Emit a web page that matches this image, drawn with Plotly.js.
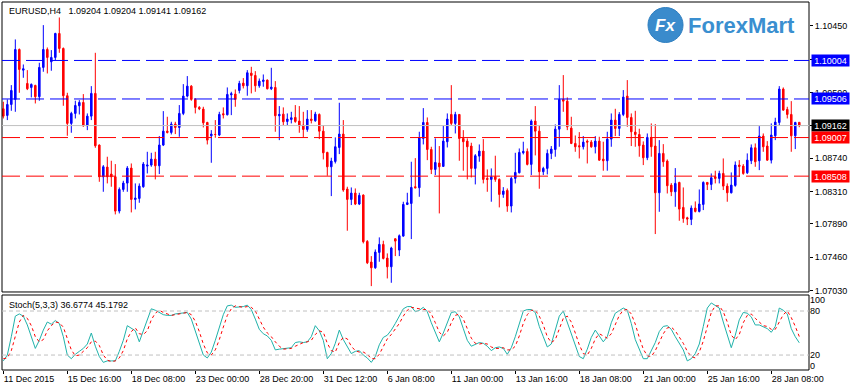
<!DOCTYPE html>
<html>
<head>
<meta charset="utf-8">
<script src="https://cdn.plot.ly/plotly-3.0.1.min.js"></script>
<style>html,body{margin:0;padding:0;background:#fff;}#chart{width:854px;height:389px;}</style>
</head>
<body>
<div id="chart"></div>
<script>
// ---- data (EURUSD, H4) ----
const symbolTitle = "EURUSD,H4\u00a0\u00a0 1.09204 1.09204 1.09141 1.09162";
const stochTitle = "Stoch(5,3,3) 36.6774 45.1792";

const opens = [
1.09379,1.09293,1.09435,1.09500,1.10146,1.09879,1.09707,1.09655,1.09681,1.09535,
1.09914,1.10146,1.09987,1.10043,1.10353,1.10159,1.09548,1.09190,1.09319,1.09418,
1.09461,1.09159,1.09284,1.09578,1.08910,1.08500,1.08625,1.08535,1.08500,1.08056,
1.08336,1.08418,1.08612,1.08207,1.08220,1.08371,1.08638,1.08651,1.08728,1.08642,
1.08910,1.09090,1.09073,1.09181,1.09138,1.09319,1.09543,1.09672,1.09500,1.09397,
1.09375,1.09202,1.09030,1.09047,1.09039,1.09315,1.09302,1.09560,1.09569,1.09616,
1.09711,1.09677,1.09840,1.09810,1.09677,1.09733,1.09750,1.09638,1.09655,1.09289,
1.09310,1.09215,1.09241,1.09267,1.09220,1.09168,1.09112,1.09246,1.09224,1.09306,
1.09090,1.08815,1.08629,1.08698,1.08879,1.09052,1.08341,1.08207,1.08289,1.08147,
1.08263,1.07664,1.07397,1.07323,1.07522,1.07625,1.07448,1.07336,1.07698,1.07552,
1.07733,1.08142,1.08155,1.08371,1.08358,1.08996,1.09202,1.08853,1.08595,1.08677,
1.08634,1.08953,1.09306,1.09190,1.09306,1.08996,1.08961,1.08897,1.08608,1.08767,
1.08832,1.08479,1.08466,1.08500,1.08466,1.08272,1.08323,1.08121,1.08479,1.08552,
1.08810,1.08828,1.08660,1.09220,1.09090,1.08565,1.08608,1.08802,1.08853,1.09116,
1.09500,1.09478,1.09129,1.08931,1.08901,1.08888,1.08961,1.08948,1.08888,1.08961,
1.08728,1.08707,1.08987,1.09233,1.09125,1.09306,1.09543,1.09267,1.09078,1.09047,
1.08910,1.08746,1.09009,1.08897,1.08293,1.08802,1.08703,1.08392,1.08306,1.08427,
1.08104,1.07970,1.07948,1.08095,1.08052,1.08142,1.08427,1.08401,1.08500,1.08479,
1.08543,1.08379,1.08293,1.08388,1.08651,1.08638,1.08552,1.08707,1.08875,1.08707,
1.09026,1.08897,1.08715,1.09030,1.09202,1.09634,1.09371,1.09306,1.09030,1.09204];

const highs = [
1.09470,1.09500,1.09685,1.10276,1.10159,1.09952,1.09879,1.09707,1.09690,1.09974,
1.10461,1.10172,1.10138,1.10362,1.10560,1.10172,1.09586,1.09340,1.09483,1.09491,
1.09569,1.09319,1.09672,1.10103,1.08918,1.08651,1.08759,1.08707,1.08664,1.08362,
1.08448,1.08638,1.08672,1.08414,1.08414,1.08690,1.08823,1.08810,1.08823,1.09026,
1.09349,1.09276,1.09211,1.09211,1.09427,1.09698,1.09802,1.09685,1.09517,1.09414,
1.09405,1.09211,1.09103,1.09233,1.09340,1.09397,1.09655,1.09599,1.09629,1.09741,
1.09776,1.09879,1.09922,1.09866,1.09771,1.09823,1.09758,1.09909,1.09737,1.09414,
1.09397,1.09319,1.09340,1.09427,1.09414,1.09340,1.09362,1.09362,1.09340,1.09319,
1.09168,1.08823,1.08746,1.09009,1.09457,1.09233,1.08371,1.08362,1.08349,1.08293,
1.08272,1.07681,1.07474,1.07560,1.07716,1.07673,1.07509,1.07595,1.07703,1.07754,
1.08177,1.08293,1.08694,1.08741,1.09082,1.09388,1.09267,1.08888,1.08996,1.08897,
1.09159,1.09319,1.09685,1.09340,1.09310,1.09103,1.08996,1.08940,1.08793,1.08918,
1.08987,1.08595,1.08608,1.08772,1.08479,1.08366,1.08349,1.08500,1.08810,1.08866,
1.08953,1.08866,1.09241,1.09414,1.09168,1.08629,1.08853,1.08897,1.09177,1.09685,
1.09815,1.09526,1.09276,1.09034,1.09077,1.09026,1.08983,1.08974,1.09026,1.09017,
1.08953,1.09082,1.09319,1.09379,1.09336,1.09621,1.09750,1.09319,1.09353,1.09121,
1.08957,1.09060,1.09190,1.09181,1.08974,1.08922,1.08724,1.08418,1.08612,1.08435,
1.08362,1.07983,1.08129,1.08181,1.08336,1.08440,1.08431,1.08543,1.08578,1.08578,
1.08737,1.08414,1.08556,1.08698,1.08715,1.08664,1.08802,1.08918,1.08931,1.09155,
1.09060,1.08961,1.09190,1.09263,1.09672,1.09655,1.09405,1.09478,1.09211,1.09204];

const lows = [
1.09254,1.09233,1.09353,1.09340,1.09586,1.09780,1.09621,1.09526,1.09448,1.09483,
1.09858,1.09836,1.09871,1.10008,1.10103,1.09418,1.09030,1.09069,1.09254,1.09306,
1.09146,1.09103,1.09233,1.08875,1.08435,1.08306,1.08414,1.08371,1.08013,1.08026,
1.08306,1.08306,1.08039,1.08078,1.08164,1.08358,1.08543,1.08629,1.08466,1.08535,
1.08897,1.09060,1.09047,1.09052,1.09017,1.09297,1.09526,1.09483,1.09319,1.09362,
1.09138,1.08918,1.08681,1.09004,1.09026,1.09254,1.09293,1.09297,1.09405,1.09578,
1.09642,1.09548,1.09578,1.09599,1.09651,1.09664,1.09629,1.09621,1.09082,1.08974,
1.09168,1.09168,1.09190,1.09198,1.09069,1.09009,1.09082,1.09190,1.09211,1.08987,
1.08724,1.08513,1.08250,1.08672,1.08793,1.08306,1.07802,1.08134,1.08134,1.08134,
1.07638,1.07371,1.07086,1.07310,1.07401,1.07431,1.07185,1.07129,1.07474,1.07474,
1.07724,1.08134,1.07694,1.08349,1.08241,1.08918,1.08715,1.08535,1.08522,1.08026,
1.08629,1.08879,1.09168,1.09060,1.08707,1.08578,1.08466,1.08491,1.08401,1.08694,
1.08414,1.08306,1.08177,1.08435,1.08104,1.08228,1.08047,1.08039,1.08414,1.08543,
1.08789,1.08647,1.08522,1.08776,1.08345,1.08522,1.08530,1.08728,1.08759,1.08888,
1.09340,1.09103,1.08922,1.08823,1.08737,1.08853,1.08672,1.08875,1.08802,1.08707,
1.08578,1.08578,1.08888,1.09026,1.09026,1.09284,1.09146,1.08897,1.08888,1.08759,
1.08651,1.08715,1.08759,1.07759,1.08047,1.08629,1.08284,1.08250,1.08112,1.07931,
1.07905,1.07875,1.07875,1.08039,1.08039,1.08069,1.08328,1.08328,1.08414,1.08414,
1.08328,1.08177,1.08284,1.08371,1.08500,1.08526,1.08535,1.08664,1.08629,1.08586,
1.08823,1.08707,1.08672,1.08974,1.09159,1.09353,1.09254,1.08823,1.08858,1.09141];

const closes = [
1.09284,1.09435,1.09616,1.10146,1.09888,1.09896,1.09638,1.09694,1.09535,1.09914,
1.10146,1.10043,1.10043,1.10353,1.10159,1.09548,1.09190,1.09319,1.09422,1.09461,
1.09159,1.09284,1.09578,1.08901,1.08500,1.08629,1.08500,1.08500,1.08056,1.08336,
1.08418,1.08612,1.08207,1.08224,1.08379,1.08664,1.08651,1.08728,1.08642,1.08910,
1.09090,1.09073,1.09181,1.09138,1.09319,1.09543,1.09672,1.09500,1.09397,1.09379,
1.09198,1.08974,1.09052,1.09047,1.09306,1.09302,1.09565,1.09573,1.09500,1.09707,
1.09677,1.09845,1.09810,1.09677,1.09737,1.09750,1.09638,1.09659,1.09289,1.09306,
1.09211,1.09246,1.09263,1.09215,1.09159,1.09112,1.09246,1.09228,1.09310,1.09090,
1.08810,1.08629,1.08703,1.08888,1.09052,1.08328,1.08207,1.08289,1.08147,1.08259,
1.07660,1.07388,1.07323,1.07526,1.07625,1.07444,1.07336,1.07578,1.07668,1.07737,
1.08142,1.08164,1.08362,1.08358,1.09004,1.09202,1.08853,1.08595,1.08685,1.08629,
1.08961,1.09246,1.09190,1.09306,1.08996,1.08953,1.08888,1.08608,1.08772,1.08832,
1.08466,1.08466,1.08500,1.08466,1.08272,1.08315,1.08121,1.08479,1.08556,1.08815,
1.08828,1.08660,1.09220,1.09090,1.08565,1.08608,1.08802,1.08858,1.09116,1.09500,
1.09478,1.09146,1.08931,1.08888,1.08888,1.08948,1.08948,1.08888,1.08961,1.08715,
1.08707,1.08987,1.09233,1.09125,1.09306,1.09530,1.09267,1.09082,1.09047,1.08901,
1.08746,1.09009,1.08888,1.08293,1.08802,1.08694,1.08384,1.08306,1.08414,1.08082,
1.07961,1.07953,1.08095,1.08052,1.08147,1.08427,1.08401,1.08487,1.08479,1.08543,
1.08379,1.08293,1.08392,1.08651,1.08634,1.08543,1.08715,1.08875,1.08694,1.09026,
1.08888,1.08715,1.09039,1.09207,1.09634,1.09362,1.09306,1.09030,1.09202,1.09162];

const stochMain = [
12,20,45,73,76,73,61,46,29,40,
54,65,62,67,63,45,20,15,21,25,
29,35,50,32,18,10,12,12,12,25,
40,60,57,53,38,54,68,83,81,78,
75,74,74,76,77,78,78,69,52,34,
20,16,24,40,59,75,87,88,85,85,
86,88,82,69,55,49,46,40,27,28,
29,29,30,37,38,37,38,45,60,53,
40,15,22,36,54,41,32,22,25,26,
20,16,10,18,34,44,47,54,63,73,
83,86,86,79,81,85,79,64,50,38,
50,65,78,79,72,56,40,32,35,37,
36,32,26,30,31,29,21,30,45,63,
80,82,82,78,59,45,31,35,56,73,
80,65,50,34,18,15,28,44,54,46,
38,45,64,77,81,84,81,63,41,28,
15,15,25,37,52,59,60,55,45,35,
27,12,15,22,35,59,84,91,87,84,
65,47,30,47,68,78,77,72,61,61,
59,56,51,59,84,81,76,56,45,36.68];

const stochSignal = [
15,16,26,46,65,74,70,60,45,38,
41,53,60,65,64,58,43,27,19,20,
25,30,38,39,33,20,13,11,12,16,
26,42,52,57,49,48,53,68,77,81,
78,76,74,75,76,77,78,75,66,52,
35,23,20,27,41,58,74,83,87,86,
85,86,85,80,69,58,50,45,38,32,
28,29,29,32,35,37,38,40,48,53,
51,36,26,24,37,44,42,32,26,24,
24,21,15,15,21,32,42,48,55,63,
73,81,85,84,82,82,82,76,64,51,
46,51,64,74,76,69,56,43,36,35,
36,35,31,29,29,30,27,27,32,46,
63,75,81,81,73,61,45,37,41,55,
70,73,65,50,34,22,20,29,42,49,
46,43,49,62,74,81,82,76,62,44,
28,19,18,26,38,49,57,58,53,45,
36,25,18,16,24,39,59,78,87,87,
79,65,47,41,48,64,74,76,70,65,
60,59,55,55,65,75,80,71,59,45.18];

const timeLabels = ["11 Dec 2015","15 Dec 16:00","18 Dec 08:00","23 Dec 00:00","28 Dec 20:00","31 Dec 12:00","6 Jan 08:00","11 Jan 00:00","13 Jan 16:00","18 Jan 08:00","21 Jan 00:00","25 Jan 16:00","28 Jan 08:00"];
const timeLabelBars = [0,16,32,48,64,80,96,112,128,144,160,176,192];

const priceTicks = [1.10450,1.10020,1.09590,1.09160,1.08740,1.08310,1.07890,1.07460,1.07030];

const levelPrices = [1.10004, 1.09506, 1.09007, 1.08508];
const levelColors = ["#0000ff", "#0000ff", "#ff0000", "#ff0000"];
const currentPrice = 1.09162;

const stochLevels = [20, 80];
const stochTickVals = [95, 80, 20, 5];
const stochTickText = ["100", "80", "20", "0"];

// ---- chart ----
const bars = closes.map((_, i) => i);
const FONT = "Liberation Sans, Arial, sans-serif";

const traces = [
  {
    type: "candlestick", x: bars, open: opens, high: highs, low: lows, close: closes,
    xaxis: "x", yaxis: "y",
    increasing: {line: {color: "#0000ff", width: 1}, fillcolor: "#0000ff"},
    decreasing: {line: {color: "#ff0000", width: 1}, fillcolor: "#ff0000"},
    whiskerwidth: 0, hoverinfo: "skip", showlegend: false
  },
  {
    type: "scatter", mode: "lines", x: bars, y: stochMain, xaxis: "x", yaxis: "y2",
    line: {color: "#20b2aa", width: 1}, hoverinfo: "skip", showlegend: false
  },
  {
    type: "scatter", mode: "lines", x: bars, y: stochSignal, xaxis: "x", yaxis: "y2",
    line: {color: "#ff0000", width: 1, dash: "dot"}, hoverinfo: "skip", showlegend: false
  }
];

const shapes = [];
shapes.push({type: "rect", xref: "paper", yref: "y domain", x0: 0, x1: 1, y0: 0, y1: 1, line: {color: "#000", width: 1}});
shapes.push({type: "rect", xref: "paper", yref: "y2 domain", x0: 0, x1: 1, y0: 0, y1: 1, line: {color: "#000", width: 1}});
shapes.push({type: "line", xref: "paper", yref: "y", x0: 0, x1: 1, y0: currentPrice, y1: currentPrice, line: {color: "#c0c0c0", width: 1}});
levelPrices.forEach((p, k) => {
  shapes.push({type: "line", xref: "paper", yref: "y", x0: 0, x1: 1, y0: p, y1: p,
    line: {color: levelColors[k], width: 1, dash: "18px,6px"}});
});
stochLevels.forEach(v => {
  shapes.push({type: "line", xref: "paper", yref: "y2", x0: 0, x1: 1, y0: v, y1: v,
    line: {color: "#c0c0c0", width: 1, dash: "4px,3px"}});
});
shapes.push({type: "circle", xref: "paper", yref: "paper", x0: 0.8005, x1: 0.8439, y0: 0.890, y1: 0.985,
  fillcolor: "#3a8bcc", line: {color: "#2f7fc0", width: 1}});

const annotations = [];
annotations.push({xref: "paper", yref: "paper", x: 0.0062, y: 0.9755, xanchor: "left", yanchor: "middle",
  text: symbolTitle, showarrow: false, font: {family: FONT, size: 9, color: "#000"}});
annotations.push({xref: "paper", yref: "paper", x: 0.0062, y: 0.1766, xanchor: "left", yanchor: "middle",
  text: stochTitle, showarrow: false, font: {family: FONT, size: 9, color: "#000"}});
const boxPrices = [1.10004, 1.09506, currentPrice, 1.09007, 1.08508];
const boxColors = ["#0000ff", "#0000ff", "#000000", "#ff0000", "#ff0000"];
boxPrices.forEach((p, k) => {
  annotations.push({xref: "paper", yref: "y", x: 1, y: p, xanchor: "left", yanchor: "middle", xshift: 2,
    text: p.toFixed(5), showarrow: false, bgcolor: boxColors[k], borderpad: 1, width: 35, height: 9,
    font: {family: FONT, size: 9, color: "#fff"}});
});
annotations.push({xref: "paper", yref: "paper", x: 0.822, y: 0.9375, xanchor: "center", yanchor: "middle",
  text: "<b><i>Fx</i></b>", showarrow: false, font: {family: FONT, size: 17, color: "#fff"}});
annotations.push({xref: "paper", yref: "paper", x: 0.8476, y: 0.9375, xanchor: "left", yanchor: "middle",
  text: "<b>ForexMart</b>", showarrow: false, font: {family: FONT, size: 22, color: "#3a8fd0"}});

const layout = {
  width: 854, height: 389,
  margin: {l: 2, r: 45, t: 2, b: 19, pad: 0},
  paper_bgcolor: "#fff", plot_bgcolor: "#fff",
  showlegend: false, hovermode: false, dragmode: false,
  boxgap: 0.45,
  font: {family: FONT, size: 9, color: "#000"},
  xaxis: {
    range: [-0.33, 201.43], anchor: "y2", showgrid: false, zeroline: false, showline: false,
    tickmode: "array", tickvals: timeLabelBars, ticktext: timeLabels,
    ticks: "outside", ticklen: 3, tickcolor: "#000", ticklabelposition: "outside right",
    tickfont: {family: FONT, size: 9, color: "#000"},
    rangeslider: {visible: false}, fixedrange: true
  },
  yaxis: {
    domain: [0.212, 1], range: [1.0701, 1.1076], side: "right", showgrid: false, zeroline: false,
    tickmode: "array", tickvals: priceTicks, tickformat: ".5f",
    ticks: "outside", ticklen: 3, tickcolor: "#000",
    tickfont: {family: FONT, size: 9, color: "#000"}, fixedrange: true
  },
  yaxis2: {
    domain: [0, 0.2038], range: [-0.4, 101.8], side: "right", showgrid: false, zeroline: false,
    tickmode: "array", tickvals: stochTickVals, ticktext: stochTickText,
    ticks: "", tickfont: {family: FONT, size: 9, color: "#000"}, fixedrange: true
  },
  shapes: shapes,
  annotations: annotations
};

Plotly.newPlot("chart", traces, layout, {displayModeBar: false, staticPlot: true});
</script>
</body>
</html>
